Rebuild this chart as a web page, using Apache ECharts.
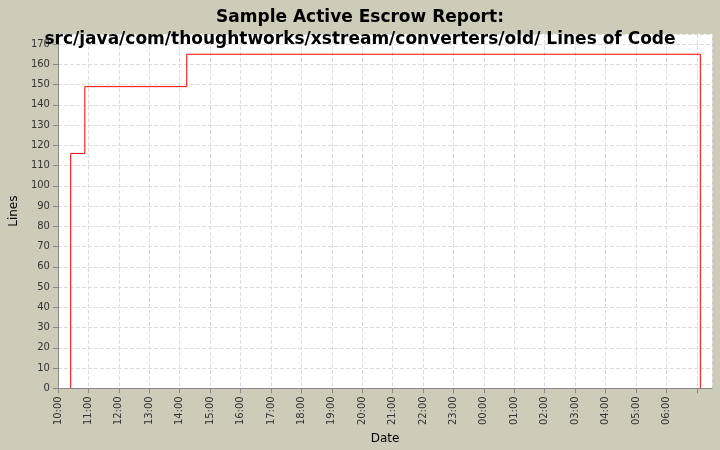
<!DOCTYPE html>
<html><head><meta charset="utf-8">
<script src="https://cdn.jsdelivr.net/npm/echarts@6/dist/echarts.min.js"></script>
<style>html,body{margin:0;padding:0;background:#CCCCB8}#c{width:720px;height:450px}</style>
</head><body><div id="c"></div>
<script>
// minutes after 10:00
const stepMinutes = [25, 25, 53, 53, 254, 254, 1267, 1267];
const lineValues = [0, 116, 116, 149, 149, 165, 165, 0];
const yTicks = {min: 0, max: 175, interval: 10};
const title = "Sample Active Escrow Report:\nsrc/java/com/thoughtworks/xstream/converters/old/ Lines of Code";

const fmt = m => { const h = (10 + Math.floor(m / 60)) % 24; return String(h).padStart(2, '0') + ':00'; };
const chart = echarts.init(document.getElementById('c'));
chart.setOption({
  backgroundColor: '#CCCCB8',
  animation: false,
  title: {text: title, left: 'center', top: 2, itemGap: 0,
    textStyle: {fontFamily: 'DejaVu Sans', fontSize: 17, fontWeight: 'bold', color: '#000', lineHeight: 22}},
  grid: {left: 52, right: 8, top: 34, bottom: 55, backgroundColor: '#fff', show: true, borderWidth: 0},
  xAxis: {type: 'value', min: 0, max: 1290, interval: 60, name: 'Date', nameLocation: 'middle', nameGap: 42,
    nameTextStyle: {fontFamily: 'DejaVu Sans', fontSize: 12, color: '#000'},
    axisLine: {lineStyle: {color: '#888'}}, axisTick: {lineStyle: {color: '#888'}},
    axisLabel: {rotate: 90, fontFamily: 'DejaVu Sans', fontSize: 10, color: '#333', formatter: v => v <= 1200 ? fmt(v) : '', showMaxLabel: false},
    splitLine: {show: true, lineStyle: {color: '#ddd', type: 'dashed'}}},
  yAxis: {type: 'value', min: 0, max: 175, interval: 10, name: 'Lines', nameLocation: 'middle', nameGap: 32,
    nameTextStyle: {fontFamily: 'DejaVu Sans', fontSize: 12, color: '#000'},
    axisLine: {show: true, lineStyle: {color: '#888'}}, axisTick: {show: true, lineStyle: {color: '#888'}},
    axisLabel: {fontFamily: 'DejaVu Sans', fontSize: 10, color: '#333', showMaxLabel: false},
    splitLine: {show: true, lineStyle: {color: '#ddd', type: 'dashed'}}},
  series: [{type: 'line', data: stepMinutes.map((m, i) => [m, lineValues[i]]), symbol: 'none',
    lineStyle: {color: '#ff0000', width: 1}}]
});
</script></body></html>
